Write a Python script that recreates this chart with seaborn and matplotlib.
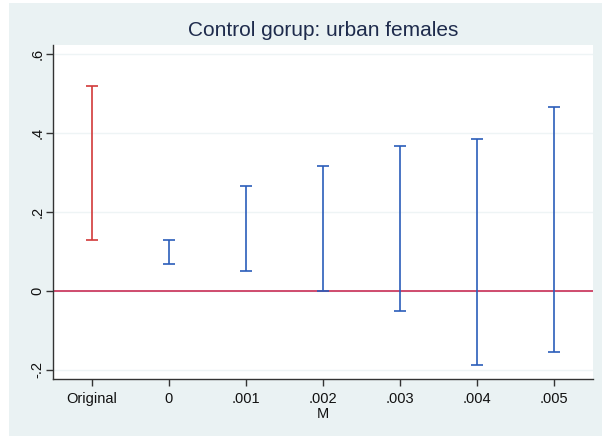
import numpy as np
import pandas as pd
import matplotlib
matplotlib.use("Agg")
import matplotlib.pyplot as plt
import seaborn as sns

labels = ["Original", "0", ".001", ".002", ".003", ".004", ".005"]
lower = [0.129, 0.068, 0.051, 0.001, -0.050, -0.187, -0.154]
upper = [0.519, 0.130, 0.266, 0.316, 0.367, 0.385, 0.467]
group = ["orig", "m", "m", "m", "m", "m", "m"]

df = pd.DataFrame({"label": labels, "lo": lower, "hi": upper, "group": group})
df["pos"] = np.arange(len(df))
df["mid"] = (df["lo"] + df["hi"]) / 2
df["half"] = (df["hi"] - df["lo"]) / 2

sns.set_theme(style="white")
plt.rcParams["font.family"] = ["Liberation Sans", "DejaVu Sans"]

bg = "#EAF2F3"
colors = {"orig": "#D23A3A", "m": "#2B5DBA"}

fig = plt.figure(figsize=(6.02, 4.36), dpi=100, facecolor="white")
# outer graph region
back = fig.add_axes([9 / 602, 0, 1 - 9 / 602, 1 - 3 / 436])
back.set_axis_off()
back.add_patch(plt.Rectangle((0, 0), 1, 1, transform=back.transAxes, facecolor=bg, edgecolor="none"))
back.set_zorder(0)

ax = fig.add_axes([53 / 602, (436 - 379) / 436, 540 / 602, 334 / 436])
ax.set_zorder(1)
ax.set_facecolor("white")

for g, sub in df.groupby("group"):
    ax.errorbar(sub["pos"], sub["mid"], yerr=sub["half"], fmt="none",
                ecolor=colors[g], elinewidth=1.2, capsize=4.5, capthick=1.2, zorder=3)

ax.axhline(0, color="#CC3E62", lw=1.3, zorder=2)

ax.set_xlim(-0.5, 6.5)
ax.set_ylim(-0.223, 0.623)
ax.set_yticks([-0.2, 0, 0.2, 0.4, 0.6])
ax.set_yticklabels(["-.2", "0", ".2", ".4", ".6"], rotation=90, va="center")
ax.set_xticks(df["pos"])
ax.set_xticklabels(df["label"])
ax.yaxis.grid(True, color="#EEF4F5", lw=1.0)
ax.set_axisbelow(True)

for s in ["top", "right"]:
    ax.spines[s].set_visible(False)
for s in ["left", "bottom"]:
    ax.spines[s].set_color("#333333")
    ax.spines[s].set_linewidth(1.0)

ax.tick_params(axis="both", which="major", length=5, width=1.0, color="#333333",
               labelsize=10.5, labelcolor="#111111", left=True, bottom=True)
ax.tick_params(axis="y", pad=1)
ax.tick_params(axis="x", pad=4)

ax.set_xlabel("M", fontsize=10.5, color="#111111", labelpad=1)
ax.set_ylabel("")
fig.text(323 / 602, 1 - 31 / 436, "Control gorup: urban females", ha="center", va="center",
         fontsize=15, color="#1E2B4C")

fig.savefig("out.png", dpi=100, facecolor=fig.get_facecolor())
